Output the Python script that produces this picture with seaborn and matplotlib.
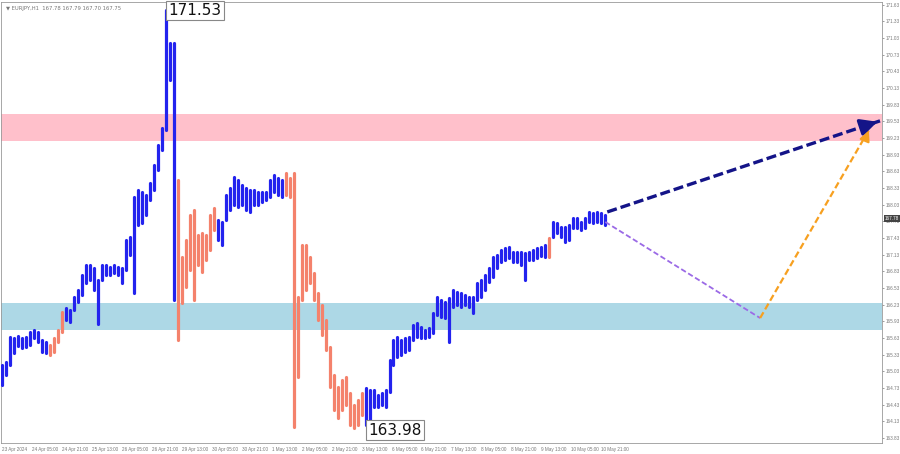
import matplotlib
matplotlib.use('Agg')
import matplotlib.pyplot as plt
import seaborn as sns
import numpy as np
import pandas as pd

# bar highs / lows (EURJPY H1, sampled every ~2 bars)
highs = [165.14, 165.20, 165.65, 165.63, 165.67, 165.63, 165.65, 165.74, 165.77, 165.74,
         165.59, 165.56, 165.50, 165.63, 165.77, 166.10, 166.17, 166.13, 166.37, 166.49,
         166.76, 166.94, 166.94, 166.89, 166.67, 166.94, 166.94, 166.91, 166.94, 166.91,
         166.89, 167.40, 167.45, 168.17, 168.30, 168.26, 168.21, 168.42, 168.75, 169.11,
         169.41, 171.53, 170.95, 170.95, 168.48, 167.09, 167.40, 167.85, 167.94, 167.49,
         167.52, 167.49, 167.85, 167.97, 167.76, 167.72, 168.21, 168.33, 168.53, 168.48,
         168.39, 168.33, 168.30, 168.30, 168.26, 168.26, 168.26, 168.48, 168.57, 168.51,
         168.48, 168.60, 168.51, 168.60, 166.37, 167.31, 167.31, 167.09, 166.80, 166.44,
         166.22, 165.95, 165.47, 164.96, 164.75, 164.87, 164.93, 164.64, 164.42, 164.51,
         164.64, 164.73, 164.69, 164.69, 164.60, 164.64, 164.69, 165.23, 165.59, 165.65,
         165.59, 165.63, 165.65, 165.86, 165.90, 165.83, 165.77, 165.81, 166.08, 166.37,
         166.31, 166.28, 166.35, 166.49, 166.46, 166.44, 166.40, 166.37, 166.37, 166.62,
         166.67, 166.76, 166.89, 167.09, 167.12, 167.22, 167.25, 167.27, 167.18, 167.18,
         167.18, 167.16, 167.18, 167.22, 167.25, 167.27, 167.31, 167.43, 167.72, 167.70,
         167.63, 167.63, 167.67, 167.79, 167.79, 167.72, 167.79, 167.90, 167.88, 167.90,
         167.88, 167.85]
lows = [164.78, 164.96, 165.14, 165.36, 165.49, 165.45, 165.47, 165.50, 165.63, 165.56,
        165.38, 165.36, 165.32, 165.38, 165.56, 165.74, 165.95, 165.92, 166.13, 166.28,
        166.40, 166.62, 166.67, 166.49, 165.88, 166.67, 166.76, 166.76, 166.80, 166.76,
        166.62, 166.85, 167.12, 166.44, 167.67, 167.70, 167.85, 168.12, 168.30, 168.66,
        169.02, 169.38, 170.28, 166.31, 165.59, 166.26, 166.55, 166.85, 166.31, 166.94,
        166.82, 167.03, 167.22, 167.58, 167.40, 167.31, 167.76, 167.94, 168.03, 167.99,
        168.03, 167.94, 167.90, 168.03, 168.03, 168.08, 168.12, 168.17, 168.26, 168.21,
        168.17, 168.21, 168.17, 164.02, 164.93, 166.31, 166.49, 166.62, 166.31, 165.95,
        165.68, 165.41, 164.75, 164.33, 164.19, 164.33, 164.42, 164.06, 164.01, 164.06,
        164.24, 164.06, 163.98, 164.39, 164.39, 164.42, 164.39, 164.66, 165.14, 165.29,
        165.32, 165.38, 165.41, 165.59, 165.65, 165.63, 165.63, 165.65, 165.72, 166.04,
        166.01, 165.99, 165.56, 166.19, 166.22, 166.19, 166.22, 166.19, 166.08, 166.31,
        166.37, 166.49, 166.64, 166.73, 166.89, 167.00, 167.03, 167.07, 167.00, 167.00,
        166.94, 166.67, 167.03, 167.03, 167.07, 167.11, 167.09, 167.09, 167.45, 167.52,
        167.45, 167.36, 167.40, 167.61, 167.61, 167.58, 167.61, 167.72, 167.70, 167.72,
        167.70, 167.67]
# bar ranges belonging to descending waves
down_waves = [(12, 15), (44, 53), (71, 90), (137, 137)]

date_labels = ['23 Apr 2024', '24 Apr 05:00', '24 Apr 21:00', '25 Apr 13:00',
               '26 Apr 05:00', '26 Apr 21:00', '29 Apr 13:00', '30 Apr 05:00',
               '30 Apr 21:00', '1 May 13:00', '2 May 05:00', '2 May 21:00',
               '3 May 13:00', '6 May 05:00', '6 May 21:00', '7 May 13:00',
               '8 May 05:00', '8 May 21:00', '9 May 13:00', '10 May 05:00',
               '10 May 21:00']
price_ticks = [171.63, 171.33, 171.03, 170.73, 170.43, 170.13, 169.83, 169.53, 169.23,
               168.93, 168.63, 168.33, 168.03, 167.73, 167.43, 167.13, 166.83, 166.53,
               166.23, 165.93, 165.63, 165.33, 165.03, 164.73, 164.43, 164.13, 163.83]

last_price = 167.78
peak_price = 171.53
trough_price = 163.98
resist_zone = (169.18, 169.67)
support_zone = (165.77, 166.26)

# forecast paths (bar position, price)
main_x, main_y = [151.5, 219.75], [167.90, 169.54]
alt1_x, alt1_y = [151.0, 189.75], [167.72, 165.99]
alt2_x, alt2_y = [189.75, 217.25], [165.99, 169.41]

##################################################################################
# build long-form frame: each bar is one unit with a high and a low point
rows = []
for i, (h, l) in enumerate(zip(highs, lows)):
    wave = 'up'
    for a, b in down_waves:
        if a <= i <= b:
            wave = 'down'
    rows.append({'bar': i, 'price': h, 'wave': wave})
    rows.append({'bar': i, 'price': l, 'wave': wave})
df = pd.DataFrame(rows)

sns.set_style('white')
plt.rcParams['font.family'] = ['DejaVu Sans']

fig = plt.figure(figsize=(9, 4.54), dpi=100)
ax = fig.add_axes([0.001, 0.0242, 0.979, 0.9714])

ax.axhspan(resist_zone[0], resist_zone[1], color='#ffc0cb', lw=0, zorder=0)
ax.axhspan(support_zone[0], support_zone[1], color='#add8e6', lw=0, zorder=0)

sns.lineplot(data=df, x='bar', y='price', units='bar', hue='wave',
             estimator=None, sort=False, legend=False, ax=ax, lw=2.3,
             palette={'up': '#2323ee', 'down': '#f4826c'}, zorder=3)

# forecast arrows
ax.plot(main_x, main_y, color='#141488', lw=2.4, ls=(0, (3, 1.2)), zorder=5)
ax.annotate('', xy=(main_x[1], main_y[1]),
            xytext=(main_x[1] - 3, main_y[1] - 0.072),
            arrowprops=dict(arrowstyle='-|>,head_length=1.0,head_width=0.5',
                            color='#141488', lw=2.4), zorder=6)
ax.plot(alt1_x, alt1_y, color='#9b6ae6', lw=1.3, ls=(0, (3, 1.5)), zorder=5)
ax.plot(alt2_x, alt2_y, color='#f7a020', lw=1.6, ls=(0, (3, 1.5)), zorder=5)
ax.annotate('', xy=(alt2_x[1], alt2_y[1]),
            xytext=(alt2_x[1] - 1.2, alt2_y[1] - 0.2),
            arrowprops=dict(arrowstyle='-|>,head_length=0.6,head_width=0.3',
                            color='#f7a020', lw=1.6), zorder=6)

# extreme labels
box = dict(boxstyle='square,pad=0.15', fc='white', ec='#888888', lw=0.8)
ax.plot([41, 41.6], [peak_price, peak_price], color='#555555', lw=0.8, zorder=6)
ax.text(41.6, peak_price, f'{peak_price:.2f}', ha='left', va='center',
        fontsize=11, color='#111111', bbox=box, zorder=7)
ax.text(91.8, trough_price - 0.01, f'{trough_price:.2f}', ha='left', va='center',
        fontsize=11, color='#111111', bbox=box, zorder=7)

ax.text(0.006, 0.99, '\u25bc EURJPY,H1  167.78 167.79 167.70 167.75',
        transform=ax.transAxes, ha='left', va='top', fontsize=3.8, color='#777777')

# axes settings
ax.set_xlim(-0.25, 220.25)
ax.set_ylim(163.74, 171.68)
ax.yaxis.tick_right()
ax.set_yticks(price_ticks)
ax.set_yticklabels([f'{p:.2f}' for p in price_ticks], family='Liberation Sans')
ax.set_xticks([0.0 + 7.5 * k for k in range(len(date_labels))])
ax.set_xticklabels(date_labels, ha='left', family='Liberation Sans')
ax.tick_params(axis='both', labelsize=3.3, colors='#777777', length=2, width=0.5,
               pad=1)
ax.tick_params(axis='y', direction='out', length=1.5, pad=1)
ax.set_xlabel('')
ax.set_ylabel('')
for s in ax.spines.values():
    s.set_color('#999999')
    s.set_linewidth(0.6)

ax.text(1.003, (last_price - 163.74) / (171.68 - 163.74), f'{last_price:.2f}',
        transform=ax.transAxes, ha='left', va='center', fontsize=3.3, color='white',
        family='Liberation Sans',
        bbox=dict(boxstyle='square,pad=0.2', fc='#444444', ec='none'), zorder=8)

plt.savefig('out.png', dpi=100)
